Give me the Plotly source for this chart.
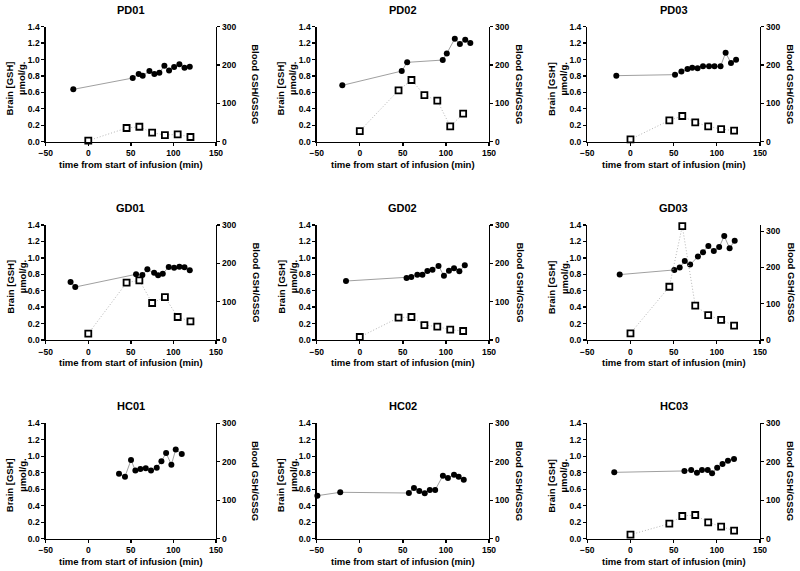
import plotly.graph_objects as go

# ---------------- data ----------------
panels = ["PD01", "PD02", "PD03", "GD01", "GD02", "GD03", "HC01", "HC02", "HC03"]

# brain GSH (umol/g) time points and values
pd01_brain_t = [-17.6, 52.2, 59.2, 63.9, 71.8, 77.6, 83.5, 89.4, 94.9, 100.8, 107.0, 113.0, 119.2]
pd01_brain_v = [0.637, 0.775, 0.824, 0.804, 0.860, 0.824, 0.840, 0.925, 0.868, 0.909, 0.942, 0.901, 0.913]
pd02_brain_t = [-20.3, 48.7, 55.0, 96.3, 101.0, 110.3, 116.2, 122.4, 128.3]
pd02_brain_v = [0.686, 0.860, 0.966, 0.994, 1.075, 1.254, 1.189, 1.242, 1.201]
pd03_brain_t = [-16.4, 51.6, 59.0, 66.0, 71.5, 77.7, 84.0, 91.0, 97.3, 104.3, 110.2, 116.4, 122.3]
pd03_brain_v = [0.804, 0.816, 0.856, 0.885, 0.901, 0.893, 0.917, 0.917, 0.917, 0.917, 1.084, 0.958, 0.998]
gd01_brain_t = [-20.8, -15.3, 56.1, 63.5, 69.4, 77.3, 82.0, 87.5, 94.5, 100.8, 107.0, 113.0, 119.2]
gd01_brain_v = [0.706, 0.645, 0.800, 0.791, 0.860, 0.820, 0.787, 0.808, 0.889, 0.881, 0.893, 0.885, 0.848]
gd02_brain_t = [-16.0, 54.3, 59.8, 66.8, 72.7, 78.5, 84.4, 91.4, 97.7, 103.5, 109.4, 115.6, 121.9]
gd02_brain_v = [0.718, 0.755, 0.767, 0.795, 0.795, 0.840, 0.856, 0.901, 0.783, 0.844, 0.873, 0.836, 0.909]
gd03_brain_t = [-12.5, 50.8, 57.0, 62.9, 69.1, 78.1, 84.0, 90.2, 96.5, 102.7, 108.6, 114.8, 120.7]
gd03_brain_v = [0.796, 0.853, 0.882, 0.963, 0.918, 1.016, 1.069, 1.143, 1.082, 1.131, 1.265, 1.118, 1.208]
hc01_brain_t = [36.1, 43.1, 50.2, 55.3, 61.2, 67.5, 73.7, 80.4, 85.9, 91.4, 97.6, 102.7, 109.8]
hc01_brain_v = [0.789, 0.753, 0.955, 0.826, 0.846, 0.854, 0.826, 0.862, 0.939, 1.040, 0.898, 1.081, 1.028]
hc02_brain_t = [-49.2, -22.7, 57.0, 62.9, 69.1, 75.4, 81.3, 87.5, 96.5, 102.3, 109.4, 114.8, 120.7]
hc02_brain_v = [0.522, 0.563, 0.554, 0.615, 0.579, 0.550, 0.591, 0.591, 0.765, 0.737, 0.777, 0.753, 0.716]
hc03_brain_t = [-18.75, 62.5, 70.3, 77.0, 82.8, 89.5, 94.5, 100.4, 106.6, 112.9, 119.9]
hc03_brain_v = [0.805, 0.822, 0.834, 0.801, 0.834, 0.834, 0.793, 0.862, 0.907, 0.947, 0.967]

# blood GSH/GSSG ratio
blood_t = [0, 45, 60, 75, 90, 105, 120]
pd01_blood = [2.6, 35.7, 39.0, 23.5, 17.4, 19.0, 12.2]
pd02_blood = [27.8, 133.9, 160.9, 121.7, 107.0, 40.0, 73.0]
pd03_blood = [6.1, 55.7, 67.0, 50.4, 40.0, 33.0, 28.7]
gd01_blood = [16.5, 149.6, 155.7, 96.5, 112.0, 60.0, 48.7]
gd02_blood = [7.8, 58.3, 60.0, 39.0, 34.8, 27.0, 23.5]
gd03_blood = [18.5, 146.8, 313.8, 95.0, 68.3, 55.4, 39.7]
hc01_blood = []
hc02_blood = []
hc03_blood = [10.4, 39.0, 59.0, 61.6, 42.5, 31.2, 20.8]

brain_t = [pd01_brain_t, pd02_brain_t, pd03_brain_t, gd01_brain_t, gd02_brain_t,
           gd03_brain_t, hc01_brain_t, hc02_brain_t, hc03_brain_t]
brain_v = [pd01_brain_v, pd02_brain_v, pd03_brain_v, gd01_brain_v, gd02_brain_v,
           gd03_brain_v, hc01_brain_v, hc02_brain_v, hc03_brain_v]
blood_v = [pd01_blood, pd02_blood, pd03_blood, gd01_blood, gd02_blood,
           gd03_blood, hc01_blood, hc02_blood, hc03_blood]
right_max = [300, 300, 300, 300, 300, 317, 300, 300, 300]

x_ticks = [-50, 0, 50, 100, 150]
right_ticks = [0, 100, 200, 300]

# ---------------- layout geometry (pixels) ----------------
W, H = 800, 571
col_x0 = [45.7, 316.7, 587.3]
col_x1 = [216.0, 489.0, 760.0]
row_top = [26.7, 225.0, 423.3]
row_bot = [141.7, 340.0, 538.7]
right_title_x = [256, 520, 791]

FONT = "Arial, Liberation Sans, sans-serif"

def px(x):
    return x / W

def py(y):
    return 1 - y / H

fig = go.Figure()
layout = {}
annotations = []

for i, name in enumerate(panels):
    r, c = divmod(i, 3)
    xid = i + 1
    yl = i + 1
    yr = i + 10
    xs = "x" if xid == 1 else f"x{xid}"
    yls = "y" if yl == 1 else f"y{yl}"
    yrs = f"y{yr}"

    fig.add_trace(go.Scatter(
        x=brain_t[i], y=brain_v[i], xaxis=xs, yaxis=yls, mode="lines+markers",
        line=dict(color="#a0a0a0", width=1),
        marker=dict(symbol="circle", size=6, color="black"),
        cliponaxis=False, showlegend=False))
    bt = blood_t if blood_v[i] else []
    fig.add_trace(go.Scatter(
        x=bt, y=blood_v[i], xaxis=xs, yaxis=yrs, mode="lines+markers",
        line=dict(color="#b4b4b4", width=1, dash="1px,2px"),
        marker=dict(symbol="square", size=6, color="white",
                    line=dict(color="black", width=1.8)),
        cliponaxis=False, showlegend=False))

    axis_common = dict(showline=True, linecolor="black", linewidth=1.3,
                       ticks="outside", ticklen=3, tickwidth=1.3, tickcolor="black",
                       showgrid=False, zeroline=False, automargin=False,
                       tickfont=dict(family=FONT, size=8.5, color="black", weight="bold"))

    layout["xaxis" if xid == 1 else f"xaxis{xid}"] = dict(
        domain=[px(col_x0[c]), px(col_x1[c])], anchor=yls,
        range=[-50, 150], tickvals=x_ticks, **axis_common)
    layout["yaxis" if yl == 1 else f"yaxis{yl}"] = dict(
        domain=[py(row_bot[r]), py(row_top[r])], anchor=xs,
        range=[0, 1.4], dtick=0.2, tick0=0, tickformat=".1f", **axis_common)
    layout[f"yaxis{yr}"] = dict(
        overlaying=yls, side="right", anchor=xs,
        range=[0, right_max[i]], tickvals=right_ticks, **axis_common)

    cx = (col_x0[c] + col_x1[c]) / 2
    cy = (row_top[r] + row_bot[r]) / 2
    annotations.append(dict(
        text=name, x=px(cx), y=py(row_top[r] - 17), xref="paper", yref="paper",
        showarrow=False, xanchor="center", yanchor="middle",
        font=dict(family=FONT, size=11, color="black", weight="bold")))
    annotations.append(dict(
        text="time from start of infusion (min)", x=px(cx), y=py(row_bot[r] + 22.5),
        xref="paper", yref="paper", showarrow=False, xanchor="center", yanchor="middle",
        font=dict(family=FONT, size=9.5, color="black", weight="bold")))
    annotations.append(dict(
        text="Brain [GSH]<br>µmol/g.", x=px(col_x0[c] - 30), y=py(cy + 4.5),
        xref="paper", yref="paper", showarrow=False, xanchor="center", yanchor="middle",
        textangle=-90, align="right",
        font=dict(family=FONT, size=9.5, color="black", weight="bold")))
    annotations.append(dict(
        text="Blood GSH/GSSG", x=px(right_title_x[c]), y=py(cy),
        xref="paper", yref="paper", showarrow=False, xanchor="center", yanchor="middle",
        textangle=90,
        font=dict(family=FONT, size=9.5, color="black", weight="bold")))

fig.update_layout(
    width=W, height=H, autosize=False,
    margin=dict(l=0, r=0, t=0, b=0),
    paper_bgcolor="white", plot_bgcolor="white",
    annotations=annotations, showlegend=False, hovermode=False,
    **layout)

fig.write_html("out.html",
               config={"displayModeBar": False, "staticPlot": True},
               post_script="document.body.style.margin='0px';document.body.style.overflow='hidden';")
